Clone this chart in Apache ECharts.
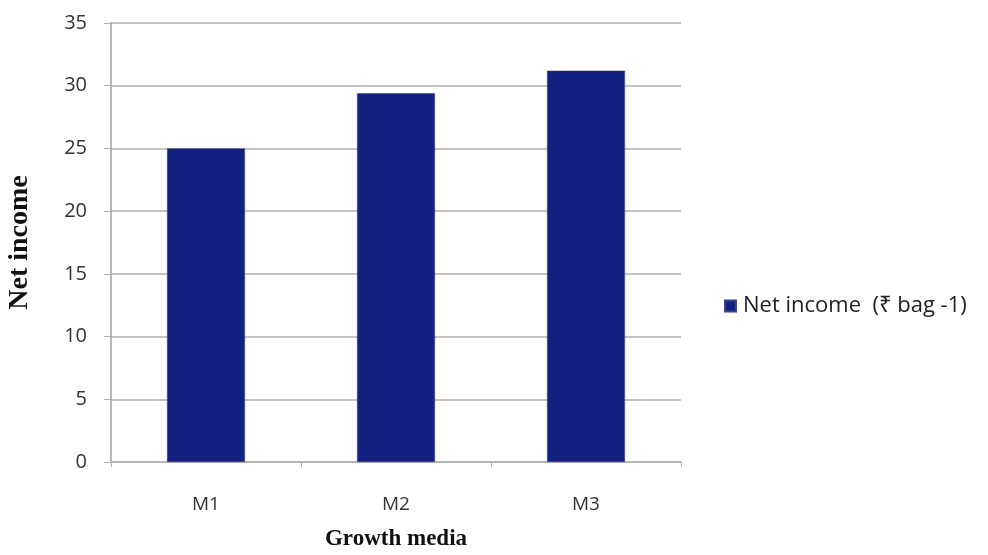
<!DOCTYPE html>
<html>
<head>
<meta charset="utf-8">
<script src="https://cdn.jsdelivr.net/npm/echarts@6/dist/echarts.min.js"></script>
<style>
  html, body { margin: 0; padding: 0; background: #fff; }
  #chart { width: 988px; height: 555px; }
</style>
</head>
<body>
<div id="chart"></div>
<script>
// Growth media categories and net income per bag
const categories = ['M1', 'M2', 'M3'];
const netIncome = [25.0, 29.4, 31.2];
const yTicks = { min: 0, max: 35, interval: 5 };
const seriesName = 'Net income  (\u20B9 bag -1)';

const chart = echarts.init(document.getElementById('chart'));
const sans = "'Open Sans', 'Noto Sans', 'DejaVu Sans', sans-serif";
const serif = "'Liberation Serif', 'DejaVu Serif', serif";

chart.setOption({
  animation: false,
  backgroundColor: '#ffffff',
  grid: { left: 111, right: 307, top: 23, bottom: 93, outerBoundsMode: 'none' },
  legend: {
    left: 719,
    top: 290,
    itemWidth: 11,
    itemHeight: 11,
    itemGap: 6,
    icon: 'rect',
    textStyle: { fontFamily: sans, fontSize: 22, color: '#222', padding: [0, 0, 0, 2] },
    data: [seriesName]
  },
  xAxis: {
    type: 'category',
    data: categories,
    name: 'Growth media',
    nameLocation: 'middle',
    nameGap: 66,
    nameTextStyle: { fontFamily: serif, fontWeight: 'bold', fontSize: 23, color: '#111' },
    axisLine: { show: true, lineStyle: { color: '#b0b0b0', width: 1.5 } },
    axisTick: { show: true, alignWithLabel: false, length: 5, lineStyle: { color: '#b0b0b0' } },
    axisLabel: { margin: 33, fontFamily: sans, fontSize: 19, color: '#333' }
  },
  yAxis: {
    type: 'value',
    min: yTicks.min,
    max: yTicks.max,
    interval: yTicks.interval,
    name: 'Net income',
    nameLocation: 'middle',
    nameGap: 77,
    nameTextStyle: { fontFamily: serif, fontWeight: 'bold', fontSize: 28, color: '#111' },
    axisLine: { show: true, lineStyle: { color: '#a0a0a0', width: 1.5 } },
    axisTick: { show: true, length: 7, inside: false, lineStyle: { color: '#b0b0b0' } },
    axisLabel: { margin: 24, fontFamily: sans, fontSize: 20, color: '#333' },
    splitLine: { show: true, lineStyle: { color: '#b0b0b0', width: 1.5 } }
  },
  series: [{
    name: seriesName,
    type: 'bar',
    data: netIncome,
    barWidth: '41%',
    itemStyle: { color: '#12217f', borderColor: '#3b3f8c', borderWidth: 0.5 }
  }]
});
</script>
</body>
</html>
